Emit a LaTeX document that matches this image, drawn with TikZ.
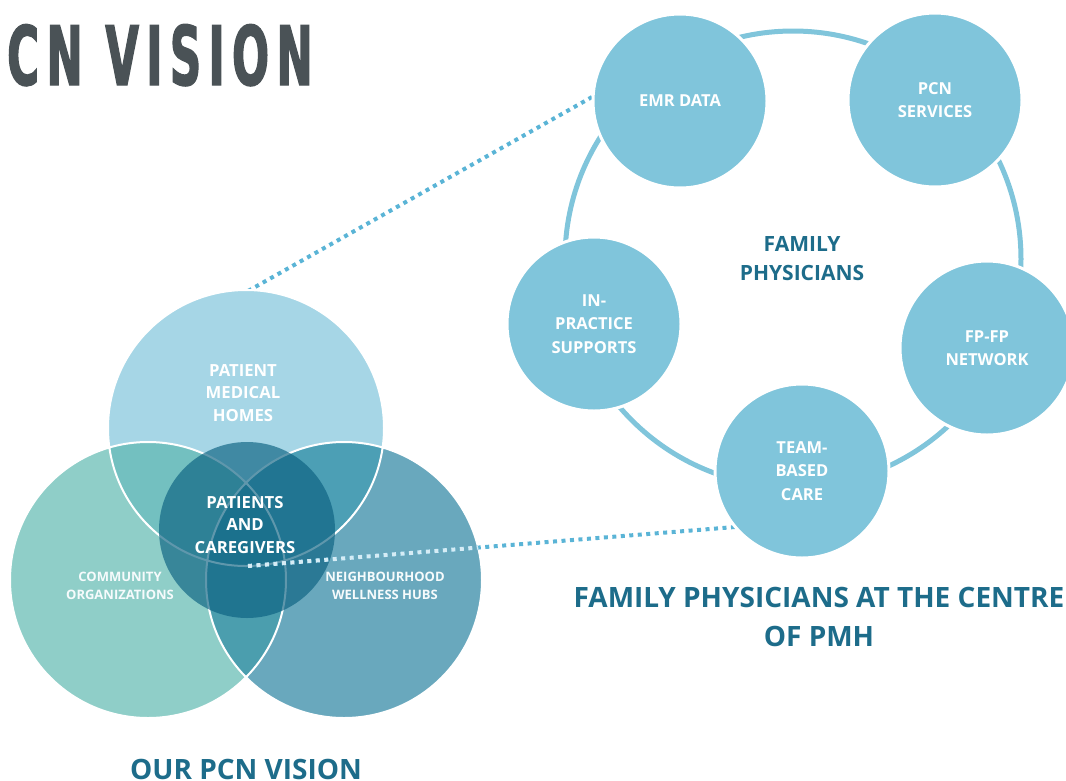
\documentclass[tikz,border=0pt]{standalone}
\usepackage{fontspec}
\setmainfont{Open Sans}
\newfontfamily\titlefont[FakeStretch=0.53,LetterSpace=9,FakeBold=1.5]{DejaVu Sans}
\usetikzlibrary{positioning}

\definecolor{ringblue}{HTML}{80C5DB}
\definecolor{dotblue}{HTML}{5AB4D6}
\definecolor{pmhblue}{HTML}{A6D6E6}
\definecolor{commteal}{HTML}{8FCEC8}
\definecolor{hubblue}{HTML}{69A8BD}
\definecolor{pmhcomm}{HTML}{73C0C0}
\definecolor{pmhhub}{HTML}{4C9FB5}
\definecolor{commhub}{HTML}{4B9EAE}
\definecolor{allthree}{HTML}{3C93A8}
\definecolor{coredark}{HTML}{0A6080}
\definecolor{headteal}{HTML}{1D6C8A}
\definecolor{titlegrey}{HTML}{4A5256}

\begin{document}
\begin{tikzpicture}[x=1pt,y=-1pt]
    \tikzset{spoke/.style = {shape=circle, draw=white, line width=3pt, fill=ringblue, minimum size=174pt, inner sep=0pt, text=white, align=center, font=\bfseries\fontsize{16.5}{23.5}\selectfont}}
    \tikzset{venntext/.style = {text=white, align=center, font=\bfseries\fontsize{16.7}{22.5}\selectfont}}
    \tikzset{smalltext/.style = {text=white!90!pmhblue, align=center, font=\bfseries\fontsize{13}{18.5}\selectfont}}
    \tikzset{heading/.style = {text=headteal, align=center, font=\bfseries\fontsize{28}{39}\selectfont}}
    \tikzset{dots/.style = {draw=dotblue, line width=4pt, dash pattern=on 4pt off 4.5pt}}

    \useasboundingbox (0,0) rectangle (1066,780);

    % title
    \node[anchor=base west, inner sep=0pt, text=titlegrey, font=\titlefont\bfseries\fontsize{82}{82}\selectfont] (title) at (7,85) {CN VISION};

    % ring of the family physicians
    \draw[ringblue, line width=5pt] (793,259) circle (228pt);

    % dotted link to the ring
    \coordinate (pmhtop) at (248,291);
    \coordinate (corefoot) at (248,566);
    \coordinate (emrpin) at (592,97);

    \draw[dots] (pmhtop) -- (emrpin);

    % venn circles
    \fill[pmhblue] (246,428) circle (138pt);
    \fill[commteal] (148,580) circle (138pt);
    \fill[hubblue] (344,580) circle (138pt);
    \begin{scope}
        \clip (148,580) circle (138pt);
        \fill[pmhcomm] (246,428) circle (138pt);
        \fill[commhub] (344,580) circle (138pt);
        \clip (344,580) circle (138pt);
        \fill[allthree] (246,428) circle (138pt);
    \end{scope}
    \begin{scope}
        \clip (344,580) circle (138pt);
        \fill[pmhhub] (246,428) circle (138pt);
        \clip (148,580) circle (138pt);
        \fill[allthree] (246,428) circle (138pt);
    \end{scope}
    \draw[white, line width=2pt] (246,428) circle (138pt) (148,580) circle (138pt) (344,580) circle (138pt);
    \fill[coredark, opacity=0.65] (247,530) circle (88pt);

    \draw[dots] (corefoot) -- (735,527) coordinate (teampin);
    \begin{scope}
        \clip (247,530) circle (88pt) (344,580) circle (138pt);
        \draw[dots, draw=white!75!dotblue] (corefoot) -- (teampin);
    \end{scope}

    % spokes
    \node[spoke] (emr) at (680,101) {EMR DATA};
    \node[spoke] (pcn) at (935,100) {PCN\\SERVICES};
    \node[spoke] (fpfp) at (987,348) {FP-FP\\NETWORK};
    \node[spoke] (team) at (802,471) {TEAM-\\BASED\\CARE};
    \node[spoke] (inpractice) at (594,324) {IN-\\PRACTICE\\SUPPORTS};

    % labels
    \node[heading, font=\bfseries\fontsize{21}{29}\selectfont] (fp) at (802,259) {FAMILY\\PHYSICIANS};
    \node[venntext] (pmh) at (243,393) {PATIENT\\MEDICAL\\HOMES};
    \node[venntext] (core) at (245,525) {PATIENTS\\AND\\CAREGIVERS};
    \node[smalltext] (comm) at (120,586) {COMMUNITY\\ORGANIZATIONS};
    \node[smalltext] (hubs) at (385,586) {NEIGHBOURHOOD\\WELLNESS HUBS};
    \node[heading] (centre) at (819,617) {FAMILY PHYSICIANS AT THE CENTRE\\OF PMH};
    \node[heading, anchor=base] (vision) at (246,779) {OUR PCN VISION};
\end{tikzpicture}
\end{document}
